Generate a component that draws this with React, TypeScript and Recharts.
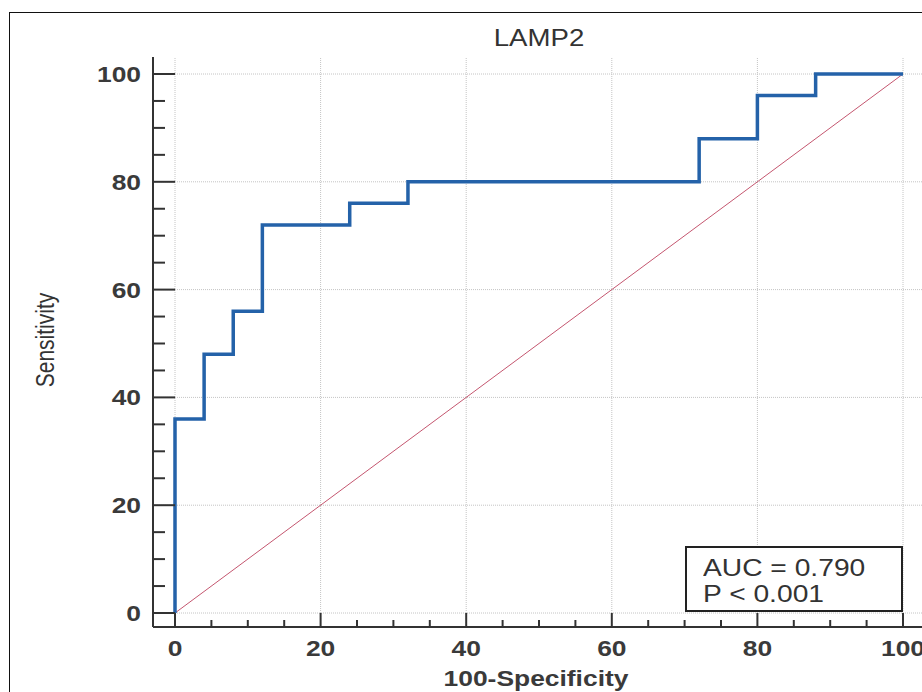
import { LineChart, Line, XAxis, YAxis, ReferenceLine } from "recharts"

// ROC curve vertices (100-specificity, sensitivity)
const fpr = [0, 0, 4, 4, 8, 8, 12, 12, 24, 24, 32, 32, 72, 72, 80, 80, 88, 88, 100]
const tpr = [0, 36, 36, 48, 48, 56, 56, 72, 72, 76, 76, 80, 80, 88, 88, 96, 96, 100, 100]

// reference diagonal
const diagX = [0, 100]
const diagY = [0, 100]

const majorTicks = [0, 20, 40, 60, 80, 100]
const minorTicks = [0, 5, 10, 15, 20, 25, 30, 35, 40, 45, 50, 55, 60, 65, 70, 75, 80, 85, 90, 95, 100]

const title = "LAMP2"
const xLabel = "100-Specificity"
const yLabel = "Sensitivity"
const aucText = "AUC = 0.790"
const pText = "P < 0.001"

const FONT = '"Liberation Sans", Arial, sans-serif'
const INK = "#333"
const STRETCH = 1.2
const X_PAD = { left: 22, right: 19 }
const Y_PAD = { top: 17, bottom: 14 }

const rocData = fpr.map((x, i) => ({ x, y: tpr[i] }))
const diagData = diagX.map((x, i) => ({ x, y: diagY[i] }))

function XTick(props: any) {
  const { x, y, payload } = props
  const v = payload.value
  const major = v % 20 === 0
  return (
    <g>
      <line x1={x} y1={y} x2={x} y2={y - (major ? 14 : 7)} stroke={INK} strokeWidth={2} />
      {major && (
        <text
          transform={`translate(${x},${y + 29}) scale(${STRETCH},1)`}
          textAnchor="middle"
          fontFamily={FONT}
          fontSize={22}
          fontWeight="bold"
          fill="#3a3a3a"
        >
          {v}
        </text>
      )}
    </g>
  )
}

function YTick(props: any) {
  const { x, y, payload } = props
  const v = payload.value
  const major = v % 20 === 0
  return (
    <g>
      <line x1={x} y1={y} x2={x + (major ? 22 : 12)} y2={y} stroke={INK} strokeWidth={2} />
      {major && (
        <text
          transform={`translate(${x - 12},${y + 8}) scale(${STRETCH},1)`}
          textAnchor="end"
          fontFamily={FONT}
          fontSize={22}
          fontWeight="bold"
          fill="#3a3a3a"
        >
          {v}
        </text>
      )}
    </g>
  )
}

const textBase = {
  position: "absolute" as const,
  fontFamily: FONT,
  lineHeight: 1,
  whiteSpace: "nowrap" as const,
  color: "#333",
}

export default function App() {
  return (
    <div
      style={{
        position: "fixed",
        left: 0,
        top: 0,
        width: 922,
        height: 692,
        overflow: "hidden",
        background: "#fff",
      }}
    >
      <div
        style={{
          position: "absolute",
          left: 9,
          top: 12,
          width: 1000,
          height: 1000,
          borderLeft: "1.5px solid #111",
          borderTop: "1.5px solid #111",
        }}
      />
      <div style={{ position: "absolute", left: 0, top: 0 }}>
        <LineChart width={922} height={692} margin={{ top: 57, right: 0, bottom: 0, left: 0 }}>
          <XAxis
            type="number"
            dataKey="x"
            domain={[0, 100]}
            ticks={minorTicks}
            interval={0}
            padding={X_PAD}
            height={65}
            tickSize={0}
            tickMargin={0}
            tickLine={false}
            axisLine={{ stroke: INK, strokeWidth: 2 }}
            tick={<XTick />}
          />
          <YAxis
            type="number"
            dataKey="y"
            domain={[0, 100]}
            ticks={minorTicks}
            interval={0}
            padding={Y_PAD}
            width={153}
            tickSize={0}
            tickMargin={0}
            tickLine={false}
            axisLine={{ stroke: INK, strokeWidth: 2 }}
            tick={<YTick />}
          />
          {/* dotted grid on the major ticks */}
          {majorTicks.map((v) => (
            <ReferenceLine key={`gx${v}`} x={v} stroke="#c4c4c4" strokeDasharray="1 1" />
          ))}
          {majorTicks.map((v) => (
            <ReferenceLine key={`gy${v}`} y={v} stroke="#c4c4c4" strokeDasharray="1 1" />
          ))}
          <Line
            data={diagData}
            dataKey="y"
            type="linear"
            stroke="#c4566f"
            strokeWidth={1}
            dot={false}
            isAnimationActive={false}
          />
          <Line
            data={rocData}
            dataKey="y"
            type="linear"
            stroke="#2462a9"
            strokeWidth={3.5}
            strokeLinejoin="miter"
            dot={false}
            isAnimationActive={false}
          />
        </LineChart>
      </div>
      <div
        style={{
          ...textBase,
          left: 539,
          top: 26.5,
          fontSize: 23,
          transform: `translateX(-50%) scaleX(${STRETCH})`,
        }}
      >
        {title}
      </div>
      <div
        style={{
          ...textBase,
          left: 536,
          top: 667.5,
          fontSize: 22,
          fontWeight: "bold",
          color: "#3a3a3a",
          transform: `translateX(-50%) scaleX(${STRETCH})`,
        }}
      >
        {xLabel}
      </div>
      <div
        style={{
          ...textBase,
          left: 45,
          top: 340,
          fontSize: 21,
          transform: `translate(-50%,-50%) scaleX(${STRETCH}) rotate(-90deg)`,
        }}
      >
        {yLabel}
      </div>
      <div
        style={{
          position: "absolute",
          left: 685,
          top: 546,
          width: 218,
          height: 66,
          boxSizing: "border-box",
          border: "2px solid #222",
          background: "#fff",
        }}
      >
        <div
          style={{
            ...textBase,
            left: 16,
            top: 9,
            fontSize: 23.5,
            transformOrigin: "0 0",
            transform: `scaleX(${STRETCH})`,
          }}
        >
          {aucText}
        </div>
        <div
          style={{
            ...textBase,
            left: 16,
            top: 35,
            fontSize: 23.5,
            transformOrigin: "0 0",
            transform: `scaleX(${STRETCH})`,
          }}
        >
          {pText}
        </div>
      </div>
    </div>
  )
}
